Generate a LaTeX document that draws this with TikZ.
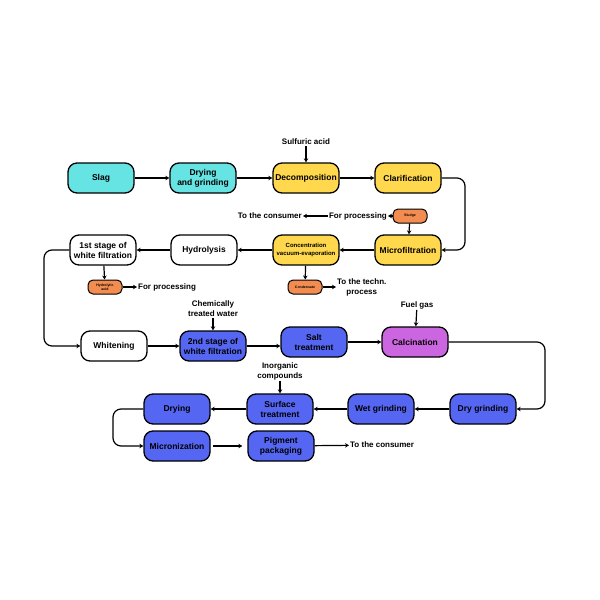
\documentclass[tikz,border=0pt]{standalone}
\usepackage{fontspec}
\setmainfont{Liberation Sans}
\usetikzlibrary{arrows.meta}
\definecolor{slagcyan}{HTML}{66E3E3}
\definecolor{acidyellow}{HTML}{FFD84D}
\definecolor{sideorange}{HTML}{F28C50}
\definecolor{pigblue}{HTML}{5566F2}
\definecolor{calcpurple}{HTML}{CC66E0}
\tikzset{
  proc/.style={draw, line width=1.3pt, rounded corners=9pt, minimum width=66pt, minimum height=30pt,
    align=center, font=\bfseries\fontsize{8.5}{10}\selectfont, inner sep=1pt},
  side/.style={draw, line width=1pt, rounded corners=5pt, minimum width=34pt, minimum height=14pt,
    fill=sideorange, font=\bfseries\fontsize{3.5}{4}\selectfont, align=center, inner sep=0.5pt},
  lbl/.style={font=\bfseries\fontsize{8}{10}\selectfont, align=center, inner sep=1pt},
  flow/.style={-{Stealth[length=4pt,width=4.5pt]}, line width=1.2pt},
}
\begin{document}
\begin{tikzpicture}[x=1pt,y=-1pt]
\useasboundingbox (0,0) rectangle (600,600);
% Row 1
\node[proc, fill=slagcyan] (slag) at (101,178) {Slag};
\node[proc, fill=slagcyan] (dry) at (203,178) {Drying\\and grinding};
\node[proc, fill=acidyellow] (decomp) at (306,178) {Decomposition};
\node[proc, fill=acidyellow] (clar) at (408,178) {Clarification};
\node[lbl] (sulf) at (306,142) {Sulfuric acid};
% Row 2
\node[side] (sludge) at (410,216) {Sludge};
\node[lbl, anchor=east] (forproc) at (388,216) {For processing};
\node[lbl, anchor=east] (toconsA) at (303,216) {To the consumer};
\node[proc, fill=acidyellow] (micro) at (408,250) {Microfiltration};
\node[proc, fill=acidyellow, font=\bfseries\fontsize{6}{8}\selectfont] (conc) at (306,250) {Concentration\\vacuum-evaporation};
\node[proc, fill=white] (hydro) at (204,250) {Hydrolysis};
\node[proc, fill=white] (white1) at (103,250) {1st stage of\\white filtration};
\node[side] (hacid) at (105,287) {Hydrolytic\\acid};
\node[lbl, anchor=west] (forprocB) at (137,287) {For processing};
\node[side] (cond) at (305,287) {Condensate};
\node[lbl, anchor=west] (techn) at (336,287) {To the techn.\\process};
% Row 3
\node[proc, fill=white] (whiten) at (114,346) {Whitening};
\node[proc, fill=pigblue] (white2) at (213,346) {2nd stage of\\white filtration};
\node[lbl] (water) at (213,309) {Chemically\\treated water};
\node[proc, fill=pigblue] (salt) at (314,342) {Salt\\treatment};
\node[proc, fill=calcpurple] (calc) at (415,342) {Calcination};
\node[lbl] (fuel) at (417,305) {Fuel gas};
% Row 4
\node[proc, fill=pigblue] (drygr) at (483,409) {Dry grinding};
\node[proc, fill=pigblue] (wetgr) at (381,409) {Wet grinding};
\node[proc, fill=pigblue] (surf) at (280,409) {Surface\\treatment};
\node[lbl] (inorg) at (280,371) {Inorganic\\compounds};
\node[proc, fill=pigblue] (drying) at (177,409) {Drying};
% Row 5
\node[proc, fill=pigblue] (micron) at (177,446) {Micronization};
\node[proc, fill=pigblue] (pack) at (281,446) {Pigment\\packaging};
\node[lbl, anchor=west] (toconsB) at (349,445) {To the consumer};
% Connectors
\draw[flow] (slag) -- (dry);
\draw[flow] (dry) -- (decomp);
\draw[flow] (decomp) -- (clar);
\draw[flow] (sulf) -- (decomp);
\draw[flow, rounded corners=8pt] (clar.east) -- (465,178) -- (465,250) -- (micro.east);
\draw[flow] (sludge) -- (forproc);
\draw[flow] (forproc) -- (toconsA);
\draw[flow] (sludge) -- (micro);
\draw[flow] (micro) -- (conc);
\draw[flow] (conc) -- (hydro);
\draw[flow] (hydro) -- (white1);
\draw[flow] (conc) -- (cond);
\draw[flow] (cond) -- (techn.west |- cond);
\draw[flow] (white1) -- (hacid);
\draw[flow] (hacid) -- (forprocB);
\draw[flow, rounded corners=8pt] (white1.west) -- (44,250) -- (44,346) -- (whiten.west);
\draw[flow] (whiten) -- (white2);
\draw[flow] (water) -- (white2);
\draw[flow] (white2.east) -- (salt.west |- white2.east);
\draw[flow] (salt) -- (calc);
\draw[flow] (fuel) -- (calc);
\draw[flow, rounded corners=8pt] (calc.east) -- (545,342) -- (545,409) -- (drygr.east);
\draw[flow] (drygr) -- (wetgr);
\draw[flow] (wetgr) -- (surf);
\draw[flow] (inorg) -- (surf);
\draw[flow] (surf) -- (drying);
\draw[flow, rounded corners=8pt] (drying.west) -- (113,409) -- (113,446) -- (micron.west);
\draw[flow] (micron.east) ++(2,0) coordinate (mstart) -- ([xshift=-5pt]pack.west);
\draw[flow] (pack) -- (toconsB);
\end{tikzpicture}
\end{document}
